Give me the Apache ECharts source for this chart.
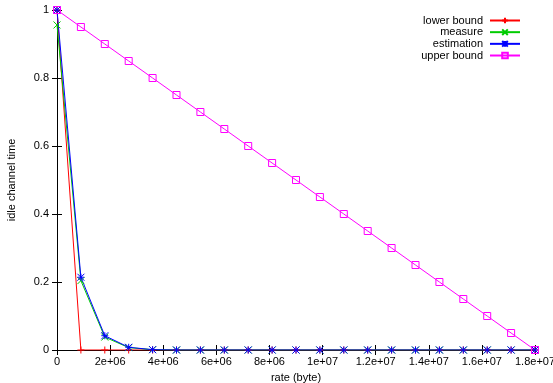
<!DOCTYPE html>
<html><head><meta charset="utf-8">
<script src="https://cdn.jsdelivr.net/npm/echarts@6/dist/echarts.min.js"></script>
<style>html,body{margin:0;padding:0;background:#fff}#c{width:553px;height:383px}</style>
</head><body><div id="c"></div>
<script>
var rates = [0, 900000, 1800000, 2700000, 3600000, 4500000, 5400000, 6300000, 7200000, 8100000, 9000000, 9900000, 10800000, 11700000, 12600000, 13500000, 14400000, 15300000, 16200000, 17100000, 18000000];
var lowerBound = [1, 0, 0, 0, 0, 0, 0, 0, 0, 0, 0, 0, 0, 0, 0, 0, 0, 0, 0, 0, 0];
var measure = [0.956, 0.204, 0.038, 0.007, 0.001, 0, 0, 0, 0, 0, 0, 0, 0, 0, 0, 0, 0, 0, 0, 0, 0];
var estimation = [1, 0.214, 0.042, 0.008, 0.001, 0, 0, 0, 0, 0, 0, 0, 0, 0, 0, 0, 0, 0, 0, 0, 0];
var upperBound = [1, 0.95, 0.9, 0.85, 0.8, 0.75, 0.7, 0.65, 0.6, 0.55, 0.5, 0.45, 0.4, 0.35, 0.3, 0.25, 0.2, 0.15, 0.1, 0.05, 0];
var seriesNames = ['lower bound', 'measure', 'estimation', 'upper bound'];
var xTickStep = 2000000, xMax = 18000000;
var yTickStep = 0.2;

function pairs(vals){ return rates.map(function(r,i){ return [r, vals[i]]; }); }
function fmtX(v){
  if (v === 0) return '0';
  var s = v.toExponential();
  return s.replace(/e([+-])(\d)$/, 'e$10$2');
}
var font = 'Liberation Sans, Arial, Helvetica, sans-serif';
var plus = 'path://M0,5L10,5M5,0L5,10';
var cross = 'path://M0,0L10,10M10,0L0,10';
var star = 'path://M0,0L10,10M10,0L0,10M0,5L10,5M5,0L5,10';
var square = 'path://M0,0L10,0L10,10L0,10Z';
function mk(name, vals, color, sym, fill){
  return {
    name: name, type: 'line', data: pairs(vals), xAxisIndex: 0, yAxisIndex: 0,
    symbol: sym, symbolSize: 7, showSymbol: true, animation: false,
    lineStyle: {color: color, width: 1},
    itemStyle: {color: fill, borderColor: color, borderWidth: 1},
    emphasis: {disabled: true}
  };
}
var chart = echarts.init(document.getElementById('c'), null, {renderer: 'canvas'});
var axisCommon = {
  axisLine: {show: true, lineStyle: {color: '#000', width: 1}},
  axisTick: {show: true, inside: true, length: 5, lineStyle: {color: '#000'}},
  splitLine: {show: false}
};
chart.setOption({
  animation: false,
  backgroundColor: '#fff',
  textStyle: {fontFamily: font},
  grid: {left: 57, right: 18, top: 10, bottom: 33, outerBoundsMode: 'none', containLabel: false},
  legend: {
    orient: 'vertical', right: 27, top: 10, align: 'right',
    itemWidth: 30, itemHeight: 7, itemGap: 0.67,
    textStyle: {fontFamily: font, fontSize: 11, color: '#000', lineHeight: 10, height: 10, padding: [0, 2, 0, 0]},
    data: seriesNames.map(function(n){ return {name: n}; })
  },
  xAxis: [
    Object.assign({type: 'value', min: 0, max: xMax, interval: xTickStep, position: 'bottom',
      name: 'rate (byte)', nameLocation: 'middle', nameGap: 22,
      nameTextStyle: {fontFamily: font, fontSize: 11, color: '#000'},
      axisLabel: {formatter: fmtX, fontFamily: font, fontSize: 11, color: '#000', margin: 6, showMaxLabel: true}}, axisCommon),
    Object.assign({type: 'value', min: 0, max: xMax, interval: xTickStep, position: 'top',
      axisLabel: {show: false}}, axisCommon)
  ],
  yAxis: [
    Object.assign({type: 'value', min: 0, max: 1, interval: yTickStep, position: 'left',
      name: 'idle channel time', nameLocation: 'middle', nameGap: 40, nameRotate: 90,
      nameTextStyle: {fontFamily: font, fontSize: 11, color: '#000'},
      axisLabel: {formatter: function(v){ return String(Math.round(v*10)/10); }, fontFamily: font, fontSize: 11, color: '#000', margin: 8}}, axisCommon),
    Object.assign({type: 'value', min: 0, max: 1, interval: yTickStep, position: 'right',
      axisLabel: {show: false}}, axisCommon)
  ],
  series: [
    mk(seriesNames[0], lowerBound, '#ff0000', plus, '#ff0000'),
    mk(seriesNames[1], measure, '#00cc00', cross, '#00cc00'),
    mk(seriesNames[2], estimation, '#0000ff', star, '#0000ff'),
    mk(seriesNames[3], upperBound, '#ff00ff', square, 'rgba(0,0,0,0)')
  ]
});
</script></body></html>
